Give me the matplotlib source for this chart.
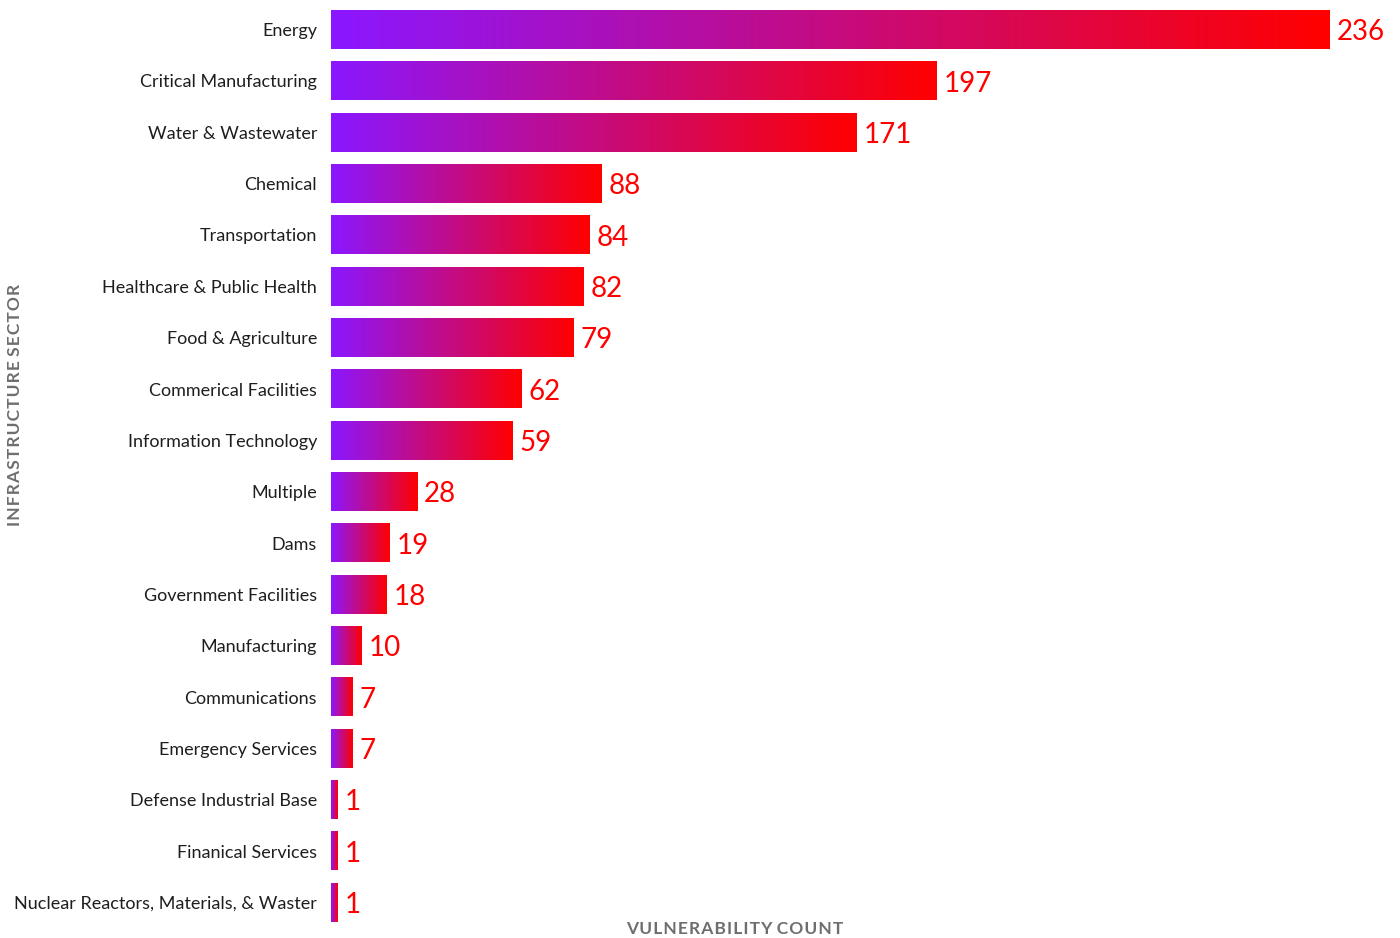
import numpy as np
import matplotlib
matplotlib.use("Agg")
import matplotlib.pyplot as plt
from matplotlib.colors import LinearSegmentedColormap

# =========================
# DATA
# =========================
sectors = [
    "Energy", "Critical Manufacturing", "Water & Wastewater", "Chemical",
    "Transportation", "Healthcare & Public Health", "Food & Agriculture",
    "Commerical Facilities", "Information Technology", "Multiple", "Dams",
    "Government Facilities", "Manufacturing", "Communications",
    "Emergency Services", "Defense Industrial Base", "Finanical Services",
    "Nuclear Reactors, Materials, & Waster",
]
counts = [236, 197, 171, 88, 84, 82, 79, 62, 59, 28, 19, 18, 10, 7, 7, 1, 1, 1]
# bar lengths as drawn in the picture (Energy bar runs longer than its label)
bar_lengths = [325, 197, 171, 88, 84, 82, 79, 62, 59, 28, 19, 18, 10, 7, 7, 2, 2, 2]

# =========================
# STYLE
# =========================
plt.rcParams["font.family"] = ["Lato", "DejaVu Sans"]
cmap = LinearSegmentedColormap.from_list("pr", ["#8b17ff", "#ff0000"])
grad = np.linspace(0, 1, 256).reshape(1, -1)


def spaced(txt):
    # crude letter spacing with hair spaces
    return "\u200a".join(txt).replace("\u200a \u200a", "\u2009\u2009")


fig = plt.figure(figsize=(14, 9.38), dpi=100)
ax = fig.add_axes([331 / 1400, 1 - 928 / 938, 999 / 1400, 924 / 938])

bar_h = 0.75
for i, (length, c) in enumerate(zip(bar_lengths, counts)):
    ax.imshow(grad, cmap=cmap, aspect="auto", interpolation="bilinear",
              extent=[0, length, i + bar_h / 2, i - bar_h / 2], zorder=2)
    ax.text(length + 2.3, i + 0.05, str(c), color="#ff0000", fontsize=20,
            va="center", ha="left", clip_on=False)

ax.set_xlim(0, 325)
ax.set_ylim(len(sectors) - 0.5, -0.5)
ax.set_yticks(range(len(sectors)))
ax.set_yticklabels(sectors, fontsize=13, color="#1e1e1e")
ax.tick_params(axis="y", length=0, pad=10)
ax.set_xticks([])
for s in ax.spines.values():
    s.set_visible(False)

fig.text(735 / 1400, 1 - 929 / 938, spaced("VULNERABILITY COUNT"),
         ha="center", va="center", fontsize=12.5, fontweight="bold", color="#6e6e6e")
fig.text(15 / 1400, 1 - 405 / 938, spaced("INFRASTRUCTURE SECTOR"),
         ha="center", va="center", rotation=90, fontsize=12.5, fontweight="bold", color="#6e6e6e")

fig.savefig("out.png", dpi=100)
